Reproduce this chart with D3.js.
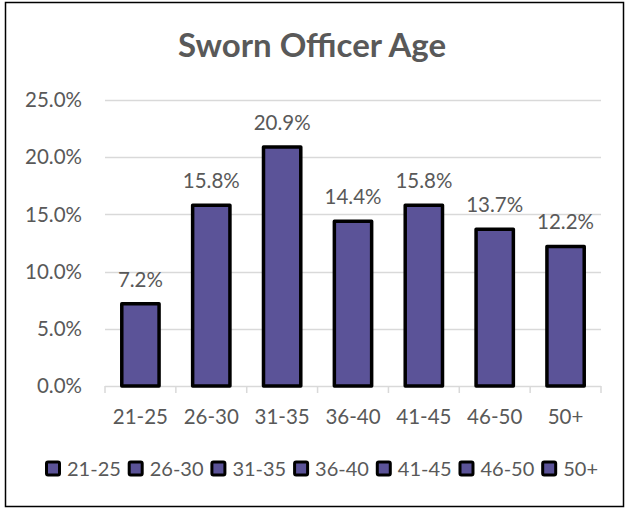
<!DOCTYPE html>
<html lang="en">
<head>
    <meta charset="UTF-8">
    <script src="https://d3js.org/d3.v7.min.js"></script>
    <style>
        body {
            margin: 0;
            background-color: #ffffff;
            overflow: hidden;
        }
        svg {
            display: block;
            font-family: 'Lato', 'Open Sans', sans-serif;
        }
    </style>
</head>
<body>
    <svg id="chart" width="626" height="508"></svg>

    <script>
        // Chart data
        const categories = ["21-25", "26-30", "31-35", "36-40", "41-45", "46-50", "50+"];
        const values = [7.2, 15.8, 20.9, 14.4, 15.8, 13.7, 12.2];
        const yTicks = [0, 5, 10, 15, 20, 25];
        const title = "Sworn Officer Age";

        const barColor = "#5b5398";
        const textColor = "#595959";
        const gridColor = "#d9d9d9";

        const svg = d3.select("#chart");

        // outer border
        svg.append("rect")
            .attr("x", 5.5).attr("y", 2.5)
            .attr("width", 618).attr("height", 504)
            .attr("fill", "#fff")
            .attr("stroke", "#000")
            .attr("stroke-width", 1.5);

        svg.append("text")
            .attr("x", 312)
            .attr("y", 57)
            .attr("text-anchor", "middle")
            .attr("font-size", 33)
            .attr("font-weight", 700)
            .attr("fill", textColor)
            .text(title);

        const plot = { left: 105, right: 601, top: 100, bottom: 386 };

        const x = d3.scaleBand()
            .domain(categories)
            .range([plot.left, plot.right])
            .paddingInner(0.4737)
            .paddingOuter(0.2368);

        const y = d3.scaleLinear()
            .domain([0, 25])
            .range([plot.bottom, plot.top]);

        // gridlines
        svg.append("g")
            .selectAll("line")
            .data(yTicks.slice(1))
            .join("line")
            .attr("x1", plot.left).attr("x2", plot.right)
            .attr("y1", d => Math.round(y(d)) + 0.5)
            .attr("y2", d => Math.round(y(d)) + 0.5)
            .attr("stroke", gridColor)
            .attr("stroke-width", 1.5);

        // y axis labels
        svg.append("g")
            .selectAll("text")
            .data(yTicks)
            .join("text")
            .attr("x", 82)
            .attr("y", d => y(d))
            .attr("dy", "0.35em")
            .attr("text-anchor", "end")
            .attr("font-size", 20.5)
            .attr("fill", textColor)
            .text(d => d.toFixed(1) + "%");

        // x axis line + category ticks
        const xAxis = svg.append("g").attr("stroke", gridColor).attr("stroke-width", 1.5);
        xAxis.append("line")
            .attr("x1", plot.left).attr("x2", plot.right)
            .attr("y1", plot.bottom + 0.5).attr("y2", plot.bottom + 0.5);
        xAxis.selectAll("line.tick")
            .data(d3.range(categories.length + 1))
            .join("line")
            .attr("class", "tick")
            .attr("x1", i => plot.left + i * (plot.right - plot.left) / categories.length)
            .attr("x2", i => plot.left + i * (plot.right - plot.left) / categories.length)
            .attr("y1", plot.bottom)
            .attr("y2", plot.bottom + 7);

        // bars
        svg.append("g")
            .selectAll("rect")
            .data(values)
            .join("rect")
            .attr("x", (d, i) => x(categories[i]))
            .attr("y", d => y(d))
            .attr("width", x.bandwidth())
            .attr("height", d => plot.bottom - y(d))
            .attr("fill", barColor)
            .attr("stroke", "#000")
            .attr("stroke-width", 3.5)
            .attr("stroke-linejoin", "round");

        // data labels
        svg.append("g")
            .selectAll("text")
            .data(values)
            .join("text")
            .attr("x", (d, i) => x(categories[i]) + x.bandwidth() / 2)
            .attr("y", d => y(d) - 17)
            .attr("text-anchor", "middle")
            .attr("font-size", 20.5)
            .attr("fill", textColor)
            .text(d => d.toFixed(1) + "%");

        // category labels
        svg.append("g")
            .selectAll("text")
            .data(categories)
            .join("text")
            .attr("x", d => x(d) + x.bandwidth() / 2)
            .attr("y", 417)
            .attr("dy", "0.35em")
            .attr("text-anchor", "middle")
            .attr("font-size", 20.5)
            .attr("fill", textColor)
            .text(d => d);

        // legend: fit between x=45 and x=598
        const legend = svg.append("g");
        const items = categories.map(c => {
            const t = legend.append("text")
                .attr("y", 469)
                .attr("dy", "0.35em")
                .attr("font-size", 20)
                .attr("fill", textColor)
                .text(c);
            return { c, t, w: t.node().getComputedTextLength() };
        });
        const used = d3.sum(items, d => d.w + 22);
        const gap = (598 - 45 - used) / (items.length - 1);
        let lx = 45;
        items.forEach(d => {
            legend.append("rect")
                .attr("x", lx + 1.5).attr("y", 462)
                .attr("width", 13).attr("height", 13)
                .attr("rx", 1.5)
                .attr("fill", barColor)
                .attr("stroke", "#000")
                .attr("stroke-width", 3);
            d.t.attr("x", lx + 22);
            lx += 22 + d.w + gap;
        });
    </script>
</body>
</html>
